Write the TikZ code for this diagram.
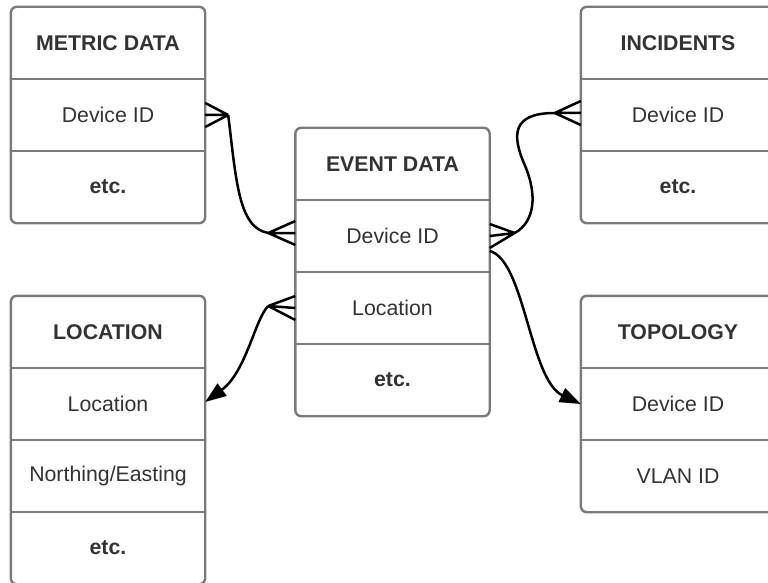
\documentclass[tikz,border=0pt]{standalone}
\usepackage{fontspec}
\setmainfont{Liberation Sans}
\usetikzlibrary{arrows.meta,fit}
\definecolor{ink}{HTML}{333333}
\definecolor{rulegray}{HTML}{7A7A7A}

% crow's foot: three prongs from a junction point to the table edge
\newcommand\crowsfoot[2]{%
  \draw[relation] (#1) -- ([yshift=12pt]#2) (#1) -- (#2) (#1) -- ([yshift=-12pt]#2);}

\begin{document}
\begin{tikzpicture}[x=1pt,y=-1pt,
  cell/.style={minimum width=194pt,minimum height=72pt,inner sep=0pt,text=ink,
    font=\fontsize{21.3}{25}\selectfont},
  headcell/.style={cell,font=\fontsize{21.3}{25}\selectfont\bfseries},
  tableframe/.style={draw=rulegray,line width=2.4pt,rounded corners=6pt,inner sep=0pt},
  divider/.style={draw=rulegray,line width=2pt},
  relation/.style={draw=black,line width=2.5pt,line join=round},
  arrowlink/.style={relation,-{Triangle[length=21pt,width=15pt]}}]

\useasboundingbox[fill=white] (0,0) rectangle (768,583);

% METRIC DATA
\node[headcell] (metric-h) at (108,43) {METRIC DATA};
\node[cell] (metric-1) at (108,115) {Device ID};
\node[headcell] (metric-2) at (108,187) {etc.};
\node[tableframe,fit=(metric-h)(metric-2)] (metric) {};
\draw[divider] (metric-h.south west) -- (metric-h.south east);
\draw[divider] (metric-1.south west) -- (metric-1.south east);

% EVENT DATA
\node[headcell] (event-h) at (392.5,164) {EVENT DATA};
\node[cell] (event-1) at (392.5,236) {Device ID};
\node[cell] (event-2) at (392.5,308) {Location};
\node[headcell] (event-3) at (392.5,380) {etc.};
\node[tableframe,fit=(event-h)(event-3)] (event) {};
\draw[divider] (event-h.south west) -- (event-h.south east);
\draw[divider] (event-1.south west) -- (event-1.south east);
\draw[divider] (event-2.south west) -- (event-2.south east);

% INCIDENTS
\node[headcell] (incidents-h) at (678,43) {INCIDENTS};
\node[cell] (incidents-1) at (678,115) {Device ID};
\node[headcell] (incidents-2) at (678,187) {etc.};
\node[tableframe,fit=(incidents-h)(incidents-2)] (incidents) {};
\draw[divider] (incidents-h.south west) -- (incidents-h.south east);
\draw[divider] (incidents-1.south west) -- (incidents-1.south east);

% LOCATION
\node[headcell] (location-h) at (108,332) {LOCATION};
\node[cell] (location-1) at (108,404) {Location};
\node[cell] (location-2) at (108,476) {Northing/Easting};
\node[headcell] (location-3) at (108,548) {etc.};
\node[tableframe,fit=(location-h)(location-3)] (location) {};
\draw[divider] (location-h.south west) -- (location-h.south east);
\draw[divider] (location-1.south west) -- (location-1.south east);
\draw[divider] (location-2.south west) -- (location-2.south east);

% TOPOLOGY
\node[headcell] (topology-h) at (678,332) {TOPOLOGY};
\node[cell] (topology-1) at (678,404) {Device ID};
\node[cell] (topology-2) at (678,476) {VLAN ID};
\node[tableframe,fit=(topology-h)(topology-2)] (topology) {};
\draw[divider] (topology-h.south west) -- (topology-h.south east);
\draw[divider] (topology-1.south west) -- (topology-1.south east);

% junctions of the many-ends
\coordinate (jm) at ([xshift=23pt]metric-1.east);
\coordinate (eL1) at ([yshift=3pt]event-1.west);
\coordinate (jeL1) at ([xshift=-27pt]eL1);
\coordinate (jeR1) at ([xshift=25pt,yshift=3pt]event-1.east);
\coordinate (ei) at ([yshift=2pt]incidents-1.west);
\coordinate (ji) at ([xshift=-26pt]ei);
\coordinate (jeL2) at ([xshift=-27pt,yshift=2pt]event-2.west);

% metric data <-> event data
\crowsfoot{jm}{metric-1.east}
\crowsfoot{jeL1}{eL1}
\draw[relation] (jm) .. controls +(8,65) and +(-30,-5) .. (jeL1);

% event data <-> incidents
\crowsfoot{jeR1}{event-1.east}
\crowsfoot{ji}{ei}
\draw[relation] (jeR1) .. controls +(20,-11) and +(13,30) .. ++(10,-68)
  .. controls +(-13,-30) and +(-43,0) .. (ji);

% event data -> location
\crowsfoot{jeL2}{event-2.west}
\draw[arrowlink] (jeL2) .. controls +(-13,12) and +(41,-30) .. ([yshift=2pt]location-1.east);

% event data -> topology
\draw[arrowlink] ([yshift=-15pt]event-1.east) .. controls +(35,9) and +(-51,-24) .. (topology-1.west);

\end{tikzpicture}
\end{document}
